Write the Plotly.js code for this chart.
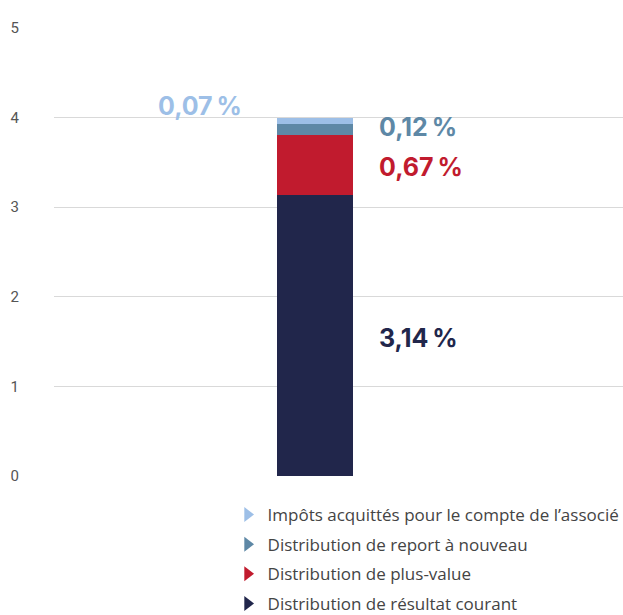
<!DOCTYPE html>
<html><head><meta charset="utf-8">
<script src="https://cdn.plot.ly/plotly-3.0.1.min.js"></script>
<style>html,body{margin:0;padding:0;background:#fff}#chart{width:623px;height:615px}</style>
</head><body><div id="chart"></div>
<script>
const category = [0];
const seriesNames = ["Distribution de résultat courant","Distribution de plus-value","Distribution de report à nouveau","Impôts acquittés pour le compte de l’associé"];
const seriesValues = [3.14, 0.67, 0.12, 0.07];
const seriesLabels = ["3,14\u202f%","0,67\u202f%","0,12\u202f%","0,07\u202f%"];
const seriesColors = ["#21264b","#c11b2e","#5e88a6","#9dbfe7"];
const yTicks = [0,1,2,3,4,5];

const traces = [];
seriesNames.forEach((n,i)=>{
  traces.push({type:'bar', x:category, y:[seriesValues[i]], name:n, marker:{color:seriesColors[i]},
    width:0.4, showlegend:false, hoverinfo:'skip'});
});
// legend entries with triangle markers, top of the stack first
for (let i = seriesNames.length-1; i >= 0; i--) {
  traces.push({type:'scatter', mode:'markers', x:[null], y:[null], name:seriesNames[i], legendgroup:'g'+(seriesNames.length-1-i),
    marker:{symbol:'triangle-right', size:13, color:seriesColors[i]}, showlegend:true});
}

const annotations = [];
let cum = 0;
seriesValues.forEach((v,i)=>{
  const mid = cum + v/2;
  cum += v;
  const f = {family:'Inter', size:25, color:seriesColors[i], weight:700};
  if (i === 3) {
    annotations.push({x:-0.605, y:cum+0.13, xref:'x', yref:'y', text:seriesLabels[i], showarrow:false,
      font:f, xanchor:'center', yanchor:'middle'});
  } else {
    annotations.push({x:0.326, y:mid + (i===2?0.03:-0.03), xref:'x', yref:'y', text:seriesLabels[i], showarrow:false,
      font:f, xanchor:'left', yanchor:'middle'});
  }
});

const layout = {
  width:623, height:615,
  margin:{l:54, r:0, t:28, b:139, autoexpand:false},
  paper_bgcolor:'#fff', plot_bgcolor:'#fff',
  barmode:'stack',
  xaxis:{range:[-1.373,1.621], showticklabels:false, showgrid:false, zeroline:false, fixedrange:true},
  yaxis:{range:[0,5], tickvals:yTicks, ticktext:yTicks.map(String), showgrid:true, gridcolor:'#d9d9d9', gridwidth:1,
    zeroline:false, ticklabelstandoff:34, tickfont:{family:'Roboto', size:15, color:'#555'}},
  showlegend:true,
  legend:{x:0.305, xanchor:'left', y:-0.047, yanchor:'top', traceorder:'grouped', tracegroupgap:4.5,
    font:{family:'Open Sans', size:17, color:'#444'}, bgcolor:'rgba(0,0,0,0)'},
  annotations:annotations
};
Plotly.newPlot('chart', traces, layout, {displayModeBar:false, staticPlot:true});
</script></body></html>
